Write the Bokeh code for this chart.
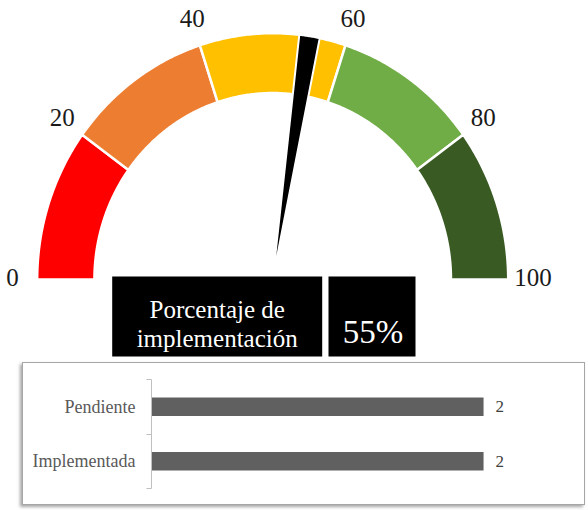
import math
import numpy as np
from bokeh.plotting import figure
from bokeh.models import Range1d, FixedTicker, Spacer, ColumnDataSource
from bokeh.layouts import column, row
from bokeh.embed import file_html
from bokeh.resources import INLINE

# ---------------- data ----------------
gauge_ticks = [0, 20, 40, 60, 80, 100]
band_edges = [0, 20, 40, 60, 80, 100]
band_colors = ["#FF0000", "#ED7D31", "#FFC000", "#70AD47", "#3A5A24"]
needle_value = 55
percent_label = "55%"
title_lines = ["Porcentaje de", "implementación"]
categories = ["Implementada", "Pendiente"]
counts = [2, 2]

FONT = "Liberation Serif"

# ---------------- gauge ----------------
W, H = 588, 362
CX, CY = 272.2, 279.0
RX, RY = 235.5, 246.3
R_IN = 0.757
NEEDLE_HALF = 1.4


def ang(v):
    return math.pi * (1 - v / 100.0)


def arc(r, v0, v1, n=80):
    ts = np.linspace(ang(v0), ang(v1), n)
    return list(r * np.cos(ts)), list(r * np.sin(ts))


def dx(px):
    return (px - CX) / RX


def dy(py):
    return (CY - py) / RY


g = figure(width=W, height=H,
           x_range=Range1d(-CX / RX, (W - CX) / RX),
           y_range=Range1d(-(H - CY) / RY, CY / RY),
           output_backend="svg", toolbar_location=None, min_border=0,
           x_axis_location=None, y_axis_location=None)
g.grid.visible = False
g.outline_line_color = None

xs_b, ys_b = [], []
for v0, v1 in zip(band_edges[:-1], band_edges[1:]):
    ox, oy = arc(1.0, v0, v1)
    ix, iy = arc(R_IN, v1, v0)
    xs_b.append(ox + ix)
    ys_b.append(oy + iy)
g.patches(xs=xs_b, ys=ys_b, fill_color=band_colors, line_color="white", line_width=2.5)

nx, ny = arc(1.0, needle_value - NEEDLE_HALF, needle_value + NEEDLE_HALF, 20)
g.patch(x=[0.0] + nx, y=[0.0] + ny, fill_color="black", line_color="white", line_width=2)

LR = 1.105
tick_src = ColumnDataSource(dict(
    x=[LR * math.cos(ang(v)) for v in gauge_ticks],
    y=[LR * math.sin(ang(v)) for v in gauge_ticks],
    t=[str(v) for v in gauge_ticks],
    f=[FONT] * len(gauge_ticks)))
g.text(x="x", y="y", text="t", text_font="f", source=tick_src,
       text_align="center", text_baseline="middle", y_offset=-2,
       text_font_size="25px", text_color="#1a1a1a")

g.quad(left=[dx(111.7), dx(328.0)], right=[dx(321.7), dx(415.0)],
       top=[dy(276.0), dy(276.0)], bottom=[dy(356.0), dy(356.0)],
       fill_color="black", line_color=None)
title_src = ColumnDataSource(dict(x=[dx(216.7)] * 2, y=[dy(309.0), dy(338.0)],
                                  t=title_lines, f=[FONT] * 2))
g.text(x="x", y="y", text="t", text_font="f", source=title_src,
       text_align="center", text_baseline="alphabetic",
       text_font_size="25px", text_color="white")
pct_src = ColumnDataSource(dict(x=[dx(372.5)], y=[dy(331.0)], t=[percent_label], f=[FONT]))
g.text(x="x", y="y", text="t", text_font="f", source=pct_src,
       text_align="center", text_baseline="alphabetic",
       text_font_size="33px", text_color="white")

# ---------------- bar chart ----------------
ys = [i + 0.5 for i in range(len(categories))]
b = figure(width=563, height=143,
           x_range=Range1d(0, max(counts) * 1.1715), y_range=Range1d(0, len(categories)),
           output_backend="svg", toolbar_location=None,
           min_border_left=128, min_border_right=46, min_border_top=16, min_border_bottom=18,
           x_axis_location=None)
b.grid.visible = False
b.outline_line_color = None
b.hbar(y=ys, left=0, right=counts, height=0.335, fill_color="#606060", line_color=None)
val_src = ColumnDataSource(dict(x=counts, y=ys, t=[str(c) for c in counts], f=[FONT] * len(counts)))
b.text(x="x", y="y", text="t", text_font="f", source=val_src, x_offset=12,
       text_align="left", text_baseline="middle",
       text_font_size="17px", text_color="#404040")

ax = b.yaxis[0]
ax.ticker = FixedTicker(ticks=ys, minor_ticks=list(range(len(categories) + 1)))
ax.major_label_overrides = {y: c for y, c in zip(ys, categories)}
ax.major_tick_line_color = None
ax.major_tick_out = 0
ax.major_tick_in = 0
ax.minor_tick_out = 5
ax.minor_tick_in = 0
ax.minor_tick_line_color = "#bfbfbf"
ax.axis_line_color = "#bfbfbf"
ax.major_label_standoff = 11
ax.major_label_text_font = FONT
ax.major_label_text_font_size = "18px"
ax.major_label_text_color = "#595959"
b.styles = {"border": "1px solid #a6a6a6",
            "box-shadow": "-2px 2px 3px rgba(0,0,0,0.35)"}

layout = column(g, row(Spacer(width=22, height=143), b))

with open("out.html", "w") as f:
    f.write(file_html(layout, INLINE))
